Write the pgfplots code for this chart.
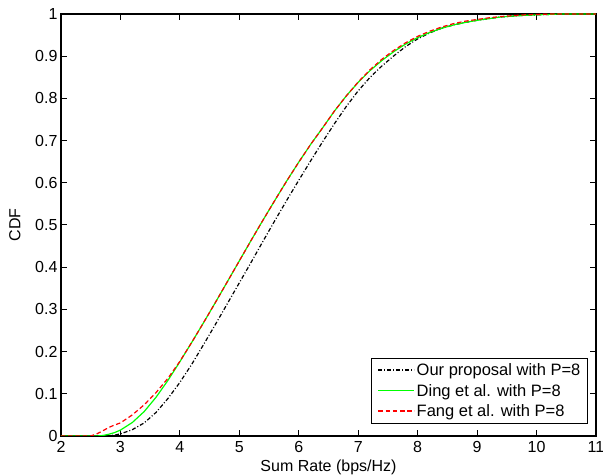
\documentclass[border=0pt]{standalone}
\usepackage{fontspec}
\setmainfont{Liberation Sans}
\usepackage{pgfplots}
\pgfplotsset{compat=1.18}
\definecolor{mgreen}{rgb}{0,1,0}
\definecolor{mred}{rgb}{1,0,0}
\newcommand{\fs}{\fontsize{16}{19}\selectfont}
\newcommand{\lfs}{\fontsize{16.5}{19}\selectfont}
\tikzset{
  propstyle/.style={draw=black, line width=1.2pt, dash pattern=on 4pt off 2pt on 1pt off 2pt},
  dingstyle/.style={draw=mgreen, line width=1.2pt, solid},
  fangstyle/.style={draw=mred, line width=1.2pt, dash pattern=on 4.5pt off 2.7pt},
}
\begin{document}
\begin{tikzpicture}
\begin{axis}[
  scale only axis, width=535pt, height=422pt,
  xmin=2, xmax=11, ymin=0, ymax=1,
  xtick={2,3,4,5,6,7,8,9,10,11},
  ytick={0,0.1,0.2,0.3,0.4,0.5,0.6,0.7,0.8,0.9,1},
  yticklabels={0,0.1,0.2,0.3,0.4,0.5,0.6,0.7,0.8,0.9,1},
  /pgf/number format/assume math mode=true,
  tick align=inside, major tick length=6pt,
  axis line style={line width=1.1pt},
  every tick/.style={line width=1pt, black},
  tick label style={font=\fs},
  xticklabel style={yshift=-2pt},
  every axis x label/.style={at={(axis description cs:0.5,-0.0735)}, anchor=center, font=\fs},
  every axis y label/.style={at={(axis description cs:-0.086,0.5)}, anchor=center, rotate=90, font=\fs},
  xlabel={Sum Rate (bps/Hz)},
  ylabel={CDF},
  legend cell align=left,
  legend style={at={(axis description cs:0.9858,0.0284)}, anchor=south east,
    line width=1pt, font=\lfs, inner xsep=6pt, inner ysep=4pt,
    nodes={inner sep=1.5pt}, row sep=4pt},
  legend image code/.code={\draw[#1, line width=1.5pt] (0pt,0.5pt) -- (36pt,0.5pt);},
]
\addplot[propstyle, forget plot] coordinates {
(2.0,0) (2.75,0) (2.9,0.002) (3.0,0.005) (3.2,0.015) (3.4,0.031) (3.6,0.056)
(3.8,0.089) (4.0,0.127) (4.2,0.170) (4.4,0.217) (4.6,0.265) (4.8,0.314)
(5.0,0.363) (5.2,0.412) (5.4,0.462) (5.6,0.511) (5.8,0.559) (6.0,0.606)
(6.2,0.652) (6.4,0.697) (6.6,0.740) (6.8,0.781) (7.0,0.818) (7.2,0.850)
(7.4,0.877) (7.6,0.901) (7.8,0.923) (8.0,0.941) (8.2,0.955) (8.4,0.966)
(8.6,0.974) (8.8,0.980) (9.0,0.985) (9.2,0.989) (9.4,0.993) (9.6,0.995)
(9.8,0.997) (10.0,0.998) (10.2,0.999) (10.4,1.0) (11,1.0)
};
\addplot[dingstyle, forget plot] coordinates {
(2.0,0) (2.6,0) (2.7,0.001) (2.8,0.004) (2.9,0.008) (3.0,0.014) (3.2,0.032)
(3.4,0.058) (3.6,0.092) (3.8,0.132) (4.0,0.176) (4.2,0.222) (4.4,0.269)
(4.6,0.317) (4.8,0.366) (5.0,0.415) (5.2,0.464) (5.4,0.512) (5.6,0.559)
(5.8,0.605) (6.0,0.649) (6.2,0.691) (6.4,0.730) (6.6,0.770) (6.8,0.806)
(7.0,0.838) (7.2,0.866) (7.4,0.890) (7.6,0.911) (7.8,0.929) (8.0,0.944)
(8.2,0.956) (8.4,0.966) (8.6,0.974) (8.8,0.980) (9.0,0.985) (9.2,0.989)
(9.4,0.993) (9.6,0.995) (9.8,0.997) (10.0,0.998) (10.2,0.999) (10.4,1.0) (11,1.0)
};
\addplot[fangstyle, forget plot] coordinates {
(2.0,0) (2.5,0) (2.6,0.005) (2.7,0.012) (2.8,0.020) (2.9,0.026) (3.0,0.031)
(3.2,0.050) (3.4,0.074) (3.6,0.103) (3.8,0.137) (4.0,0.177) (4.2,0.222)
(4.4,0.269) (4.6,0.317) (4.8,0.366) (5.0,0.415) (5.2,0.464) (5.4,0.512)
(5.6,0.559) (5.8,0.605) (6.0,0.649) (6.2,0.691) (6.4,0.730) (6.6,0.770)
(6.8,0.806) (7.0,0.839) (7.2,0.868) (7.4,0.893) (7.6,0.914) (7.8,0.932)
(8.0,0.947) (8.2,0.959) (8.4,0.969) (8.6,0.977) (8.8,0.983) (9.0,0.987)
(9.2,0.991) (9.4,0.994) (9.6,0.996) (9.8,0.998) (10.0,0.999) (10.3,1.0) (11,1.0)
};
\addlegendimage{propstyle}
\addlegendentry{Our proposal with P=8}
\addlegendimage{dingstyle}
\addlegendentry{Ding et al. with P=8}
\addlegendimage{fangstyle}
\addlegendentry{Fang et al. with P=8}
\end{axis}
\pgfresetboundingbox
\path[use as bounding box] (-61pt,-40pt) rectangle (542pt,436pt);
\end{tikzpicture}
\end{document}
